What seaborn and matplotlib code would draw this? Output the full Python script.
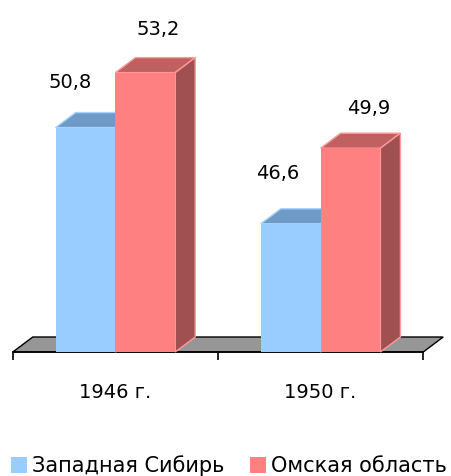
import pandas as pd
import matplotlib
matplotlib.use('Agg')
import matplotlib.pyplot as plt
from matplotlib.patches import Polygon
from matplotlib.transforms import IdentityTransform
import seaborn as sns

years = ['1946 г.', '1950 г.']
regions = ['Западная Сибирь', 'Омская область']
west_siberia = [50.8, 46.6]
omsk = [53.2, 49.9]
labels = ['50,8', '46,6', '53,2', '49,9']

df = pd.DataFrame({
    'year': years * 2,
    'region': [regions[0]] * 2 + [regions[1]] * 2,
    'value': west_siberia + omsk,
})

sns.set_theme(style='white')
plt.rcParams['font.family'] = ['DejaVu Sans']

W, H = 452, 476
DX, DY = 20, 15  # depth of the fake 3d box, pixels

fig = plt.figure(figsize=(W / 100, H / 100), dpi=100)
ax = fig.add_axes([12.8 / W, (H - 352) / H, 410.4 / W, 343.5 / H])

sns.barplot(data=df, x='year', y='value', hue='region', hue_order=regions,
            palette=['#99CCFF', '#FF8080'], width=0.583, gap=0, saturation=1,
            linewidth=0, ax=ax)
ax.set_xlim(-0.5, 1.5)
ax.set_ylim(41, 56)
ax.set_xlabel('')
ax.set_ylabel('')
ax.set_yticks([])
ax.set_xticks([0, 1], years, fontsize=14)
ax.set_xticks([-0.5, 0.5, 1.5], minor=True)
ax.tick_params(axis='x', which='major', length=0, pad=22.5, colors='black')
ax.tick_params(axis='x', which='minor', bottom=True, length=5.5, width=1.2, color='black')
sns.despine(ax=ax, left=True)
ax.spines['bottom'].set_color('black')
ax.spines['bottom'].set_linewidth(1.2)
ax.spines['bottom'].set_zorder(1)

fig.canvas.draw()
to_px = ax.transData.transform


def face(points, color, edge, z):
    ax.add_patch(Polygon(points, closed=True, facecolor=color, edgecolor=edge, linewidth=1,
                         transform=IdentityTransform(), clip_on=False, zorder=z))


# floor
(x0, y0), (x1, _) = to_px([(-0.5, 41), (1.5, 41)])
face([(x0, y0), (x1, y0), (x1 + DX, y0 + DY), (x0 + DX, y0 + DY)], '#969696', 'black', 0.5)

# bars: top and side faces, fronts stay the seaborn patches
shades = [('#6F9AC8', '#5C82A8', '#A6D2FF'), ('#C06060', '#A05050', '#FF9999')]
for i, (container, (top, side, edge)) in enumerate(zip(ax.containers, shades)):
    for j, bar in enumerate(container):
        z = 2 + 2 * i
        (a, b), (c, d) = to_px([(bar.get_x(), 41), (bar.get_x() + bar.get_width(), bar.get_height())])
        face([(a, d), (c, d), (c + DX, d + DY), (a + DX, d + DY)], top, edge, z)
        face([(c, b), (c, d), (c + DX, d + DY), (c + DX, b + DY)], side, edge, z)
        bar.set_zorder(z + 1)

# value labels sit well off the bars in the original
offsets = [(-15, 45), (-13, 50), (13, 43), (18, 40)]
bars = [bar for container in ax.containers for bar in container]
for bar, text, (ox, oy) in zip(bars, labels, offsets):
    ax.annotate(text, (bar.get_x() + bar.get_width() / 2, bar.get_height()),
                xytext=(ox * 0.72, oy * 0.72), textcoords='offset points',
                ha='center', va='center', fontsize=14, color='black',
                annotation_clip=False, zorder=10)

sns.move_legend(ax, 'lower left', bbox_to_anchor=(11 / W, 0),
                bbox_transform=fig.transFigure, ncol=2, title=None, frameon=False,
                fontsize=15, handlelength=0.78, handleheight=0.78, handletextpad=0.22,
                columnspacing=1.24, borderpad=0, borderaxespad=0, labelcolor='black')

fig.savefig('out.png', dpi=100)
